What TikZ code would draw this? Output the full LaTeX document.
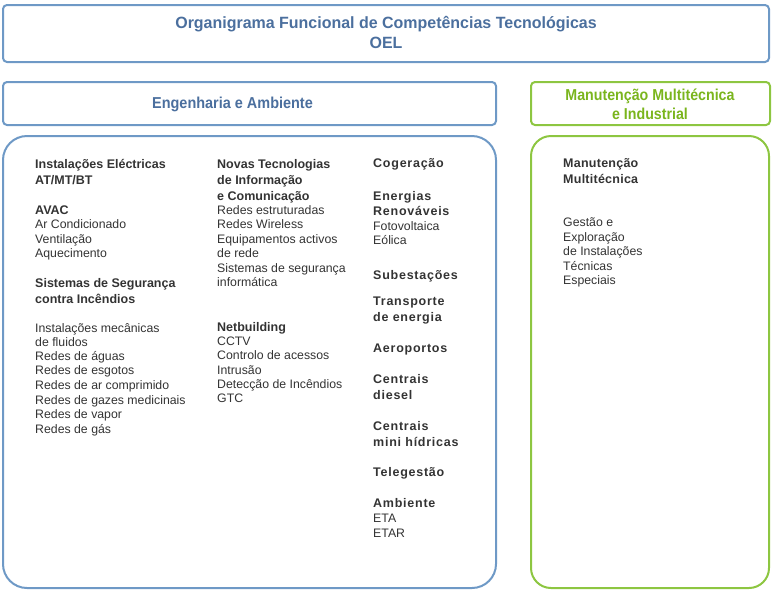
\documentclass[tikz,border=0pt]{standalone}
\usepackage{fontspec}
\setmainfont{Liberation Sans}
\newfontfamily\titlefont{Liberation Sans}[FakeStretch=0.98]
\newfontfamily\eafont{Liberation Sans}[FakeStretch=0.915]
\newfontfamily\gfont{Liberation Sans}[FakeStretch=0.9]
\newfontfamily\spacedfont{Liberation Sans}[LetterSpace=6]
\newfontfamily\lightspaced{Liberation Sans}[LetterSpace=2]
\definecolor{bborder}{HTML}{6E99C6}
\definecolor{btext}{HTML}{4B6F9E}
\definecolor{gborder}{HTML}{8DC641}
\definecolor{gtext}{HTML}{7AB51D}
\definecolor{tgray}{HTML}{333333}
\tikzset{
  hbox/.style={draw=bborder, line width=2pt, rounded corners=4pt},
  gbox/.style={draw=gborder, line width=2pt, rounded corners=4pt},
  title/.style={inner sep=0, text=btext, align=center, font=\titlefont\bfseries\fontsize{16.3}{20}\selectfont},
  eatitle/.style={inner sep=0, text=btext, align=center, font=\eafont\bfseries\fontsize{15.8}{20}\selectfont},
  gtitle/.style={inner sep=0, text=gtext, align=center, font=\gfont\bfseries\fontsize{15.8}{19}\selectfont},
  txt/.style={anchor=base west, inner sep=0, text=tgray, font=\fontsize{12.3}{14}\selectfont},
  hd/.style={txt, font=\bfseries\fontsize{12.5}{14}\selectfont},
  hdc/.style={txt, font=\spacedfont\bfseries\fontsize{12.5}{14}\selectfont},
  hdd/.style={txt, font=\lightspaced\bfseries\fontsize{12.5}{14}\selectfont},
}
\begin{document}
\begin{tikzpicture}[x=1pt, y=-1pt]
\useasboundingbox (0,0) rectangle (775,592);
% boxes
\draw[hbox] (3,5) rectangle (769,62);
\node[title] (t) at (386,32) {Organigrama Funcional de Competências Tecnológicas\\OEL};
\draw[hbox] (3,82) rectangle (496,125);
\node[eatitle] (ea) at (232.5,104) {Engenharia e Ambiente};
\draw[gbox] (531,82) rectangle (770,125);
\node[gtitle] (mm) at (650,104.5) {Manutenção Multitécnica\\e Industrial};
\draw[draw=bborder, line width=2pt, rounded corners=24pt] (3,136) rectangle (496,588);
\draw[draw=gborder, line width=2pt, rounded corners=20pt] (531,136) rectangle (769,588);
% column 1
\node[hd] (a1) at (35,168.5) {Instalações Eléctricas};
\node[hd] (a2) at (35,184.5) {AT/MT/BT};
\node[hd] (a3) at (35,214.5) {AVAC};
\node[txt] (a4) at (35,228.5) {Ar Condicionado};
\node[txt] (a5) at (35,243.5) {Ventilação};
\node[txt] (a6) at (35,257.5) {Aquecimento};
\node[hd] (a7) at (35,287.5) {Sistemas de Segurança};
\node[hd] (a8) at (35,303.5) {contra Incêndios};
\node[txt] (a9) at (35,332.5) {Instalações mecânicas};
\node[txt] (a10) at (35,346.5) {de fluidos};
\node[txt] (a11) at (35,360.5) {Redes de águas};
\node[txt] (a12) at (35,374.5) {Redes de esgotos};
\node[txt] (a13) at (35,389.5) {Redes de ar comprimido};
\node[txt] (a14) at (35,404) {Redes de gazes medicinais};
\node[txt] (a15) at (35,418.5) {Redes de vapor};
\node[txt] (a16) at (35,433) {Redes de gás};
% column 2
\node[hd] (b1) at (217,168.5) {Novas Tecnologias};
\node[hd] (b2) at (217,184.5) {de Informação};
\node[hd] (b3) at (217,200.5) {e Comunicação};
\node[txt] (b4) at (217,214.5) {Redes estruturadas};
\node[txt] (b5) at (217,228.5) {Redes Wireless};
\node[txt] (b6) at (217,243.5) {Equipamentos activos};
\node[txt] (b7) at (217,257.5) {de rede};
\node[txt] (b8) at (217,272.5) {Sistemas de segurança};
\node[txt] (b9) at (217,286.5) {informática};
\node[hd] (b10) at (217,331.5) {Netbuilding};
\node[txt] (b11) at (217,345.5) {CCTV};
\node[txt] (b12) at (217,359.5) {Controlo de acessos};
\node[txt] (b13) at (217,374.5) {Intrusão};
\node[txt] (b14) at (217,388.5) {Detecção de Incêndios};
\node[txt] (b15) at (217,402.5) {GTC};
% column 3
\node[hdc] (c1) at (373,167.5) {Cogeração};
\node[hdc] (c2) at (373,200.5) {Energias};
\node[hdc] (c3) at (373,215.5) {Renováveis};
\node[txt] (c4) at (373,230.5) {Fotovoltaica};
\node[txt] (c5) at (373,244.5) {Eólica};
\node[hdc] (c6) at (373,279.5) {Subestações};
\node[hdc] (c7) at (373,305.5) {Transporte};
\node[hdc] (c8) at (373,321.5) {de energia};
\node[hdc] (c9) at (373,352.5) {Aeroportos};
\node[hdc] (c10) at (373,383.5) {Centrais};
\node[hdc] (c11) at (373,399.5) {diesel};
\node[hdc] (c12) at (373,430.5) {Centrais};
\node[hdc] (c13) at (373,446.5) {mini hídricas};
\node[hdc] (c14) at (373,476.5) {Telegestão};
\node[hdc] (c15) at (373,507.5) {Ambiente};
\node[txt] (c16) at (373,522.5) {ETA};
\node[txt] (c17) at (373,537.5) {ETAR};
% column 4
\node[hdd] (d1) at (563,167.5) {Manutenção};
\node[hdd] (d2) at (563,183.5) {Multitécnica};
\node[txt] (d3) at (563,226.5) {Gestão e};
\node[txt] (d4) at (563,241.5) {Exploração};
\node[txt] (d5) at (563,255.5) {de Instalações};
\node[txt] (d6) at (563,270.5) {Técnicas};
\node[txt] (d7) at (563,284.5) {Especiais};
\end{tikzpicture}
\end{document}
